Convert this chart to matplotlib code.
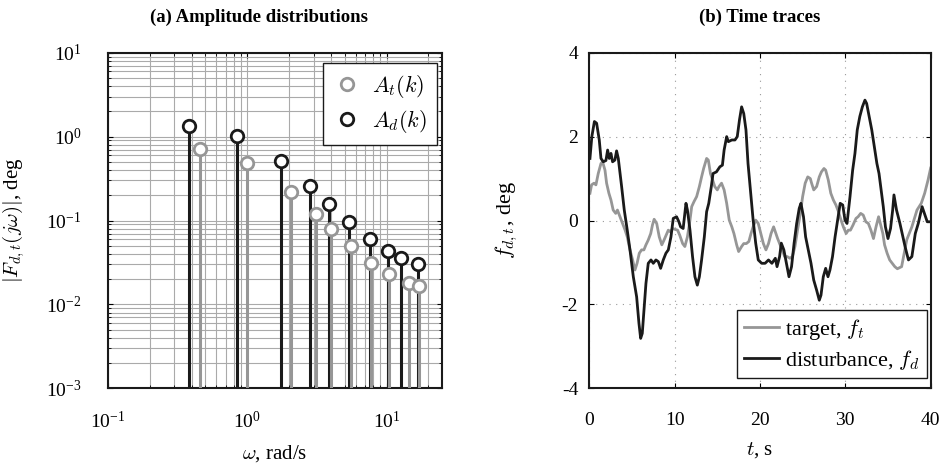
import matplotlib.pyplot as plt
import numpy as np

plt.rcParams['font.family'] = ['Liberation Serif', 'DejaVu Serif']
plt.rcParams['mathtext.fontset'] = 'cm'
plt.rcParams['axes.unicode_minus'] = False

# amplitude distributions (left)
w_t = [0.460, 0.997, 2.05, 3.10, 4.01, 5.56, 7.77, 10.5, 14.5, 17.2]
A_t = [0.706, 0.489, 0.220, 0.119, 0.0798, 0.0493, 0.0314, 0.0230, 0.0180, 0.0164]
w_d = [0.383, 0.844, 1.74, 2.80, 3.85, 5.40, 7.65, 10.3, 12.7, 16.9]
A_d = [1.35, 1.02, 0.508, 0.260, 0.157, 0.0952, 0.0602, 0.0430, 0.0360, 0.0303]

# time traces (right)
t_d = [0.08, 0.3, 0.6, 0.86, 1.17, 1.37, 1.64, 1.95, 2.15, 2.34, 2.54, 2.73, 3.0, 3.2, 3.4,
       3.79, 4.1, 4.45, 4.77, 5.16, 5.55, 5.82, 6.02, 6.21, 6.41, 6.64, 6.91, 7.23, 7.5,
       7.81, 8.09, 8.36, 8.67, 8.98, 9.26, 9.57, 9.84, 10.23, 10.5, 10.7, 11.0, 11.33,
       11.5, 11.8, 12.1, 12.38, 12.66, 12.9, 13.16, 13.48, 13.75, 14.0, 14.3, 14.5, 14.9,
       15.3, 15.6, 15.8, 16.1, 16.3, 16.7, 17.07, 17.34, 17.6, 17.85, 18.1, 18.36, 18.6,
       18.95, 19.2, 19.5, 19.8, 20.2, 20.6, 21.0, 21.4, 21.8, 22.0, 22.3, 22.5, 22.8, 23.1,
       23.4, 23.7, 24.0, 24.3, 24.6, 24.8, 25.1, 25.35, 25.66, 25.98, 26.3, 26.64, 26.95,
       27.15, 27.42, 27.7, 27.97, 28.2, 28.5, 28.8, 29.1, 29.4, 29.7, 29.96, 30.2, 30.55,
       30.86, 31.13, 31.4, 31.7, 32.0, 32.3, 32.5, 32.8, 33.1, 33.4, 33.7, 33.95, 34.2,
       34.45, 34.7, 35.0, 35.3, 35.55, 35.7, 36.0, 36.4, 37.0, 37.4, 37.8, 38.2, 38.55,
       39.0, 39.4, 39.6, 40.0]
f_d = [1.48, 2.0, 2.36, 2.32, 1.92, 1.48, 1.40, 1.43, 1.68, 1.48, 1.60, 1.40, 1.44, 1.66, 1.48,
       0.81, 0.25, -0.23, -0.70, -1.34, -1.82, -2.45, -2.81, -2.69, -2.13, -1.50, -1.02,
       -0.94, -1.02, -0.94, -0.98, -1.14, -0.94, -0.78, -0.70, -0.39, 0.05, 0.09, -0.03,
       -0.15, -0.19, 0.41, 0.25, -0.23, -0.86, -1.34, -1.54, -1.34, -0.94, -0.39, 0.21,
       0.41, 0.81, 1.12, 1.16, 1.28, 1.32, 1.68, 2.0, 1.88, 1.92, 1.92, 2.0, 2.40, 2.71,
       2.55, 2.16, 1.36, 0.57, 0.01, -0.54, -0.94, -1.02, -1.02, -0.94, -1.02, -0.90, -1.10,
       -0.86, -0.54, -0.70, -1.02, -1.34, -1.10, -0.54, -0.07, 0.29, 0.41, 0.09, -0.39,
       -0.70, -1.02, -1.42, -1.66, -1.90, -1.78, -1.34, -1.14, -1.34, -1.18, -0.86, -0.39,
       0.01, 0.41, 0.37, 0.01, -0.07, 0.57, 1.20, 1.60, 2.16, 2.48, 2.71, 2.87, 2.79, 2.48,
       2.16, 1.76, 1.36, 1.12, 0.73, 0.33, -0.15, -0.43, -0.19, 0.25, 0.61, 0.25, -0.07,
       -0.62, -0.94, -0.86, -0.31, -0.07, 0.33, 0.09, -0.03, -0.03]

t_t = [0.08, 0.27, 0.55, 0.78, 1.05, 1.37, 1.56, 1.84, 2.03, 2.3, 2.54, 2.8, 3.1, 3.3, 3.6,
       3.9, 4.2, 4.45, 4.77, 5.08, 5.35, 5.6, 5.86, 6.13, 6.4, 6.64, 6.9, 7.2, 7.4, 7.6,
       7.9, 8.2, 8.5, 8.75, 9.0, 9.26, 9.5, 9.77, 10.04, 10.35, 10.6, 10.94, 11.2, 11.5,
       11.8, 12.0, 12.27, 12.58, 12.9, 13.16, 13.4, 13.75, 13.95, 14.2, 14.45, 14.7, 15.0,
       15.2, 15.5, 15.8, 16.1, 16.4, 16.7, 16.95, 17.27, 17.5, 17.85, 18.1, 18.4, 18.7,
       18.95, 19.2, 19.5, 19.8, 20.1, 20.4, 20.7, 21.0, 21.3, 21.6, 21.8, 22.07, 22.3,
       22.66, 22.9, 23.2, 23.5, 23.8, 24.1, 24.4, 24.7, 25.0, 25.3, 25.6, 25.9, 26.05,
       26.3, 26.64, 26.95, 27.2, 27.5, 27.7, 28.0, 28.3, 28.6, 28.9, 29.2, 29.5, 29.77,
       30.1, 30.35, 30.6, 30.9, 31.25, 31.5, 31.8, 32.1, 32.4, 32.7, 33.0, 33.3, 33.6,
       33.9, 34.1, 34.4, 34.6, 34.9, 35.2, 35.5, 35.8, 36.1, 36.6, 37.2, 37.8, 38.4, 38.9,
       39.3, 39.7, 40.0]
f_t = [0.65, 0.85, 0.89, 0.85, 1.12, 1.36, 1.40, 1.20, 0.89, 0.65, 0.49, 0.25, 0.17, 0.25, 0.09,
       -0.07, -0.23, -0.39, -0.70, -0.94, -1.18, -1.02, -0.78, -0.70, -0.70, -0.58, -0.47,
       -0.31, -0.11, 0.03, -0.07, -0.39, -0.58, -0.47, -0.35, -0.23, -0.27, -0.19, -0.21,
       -0.23, -0.35, -0.55, -0.62, -0.39, 0.01, 0.33, 0.45, 0.57, 0.81, 1.04, 1.24, 1.48,
       1.44, 1.12, 0.97, 0.81, 0.73, 0.81, 0.89, 0.73, 0.41, 0.01, -0.15, -0.31, -0.58,
       -0.74, -0.62, -0.55, -0.55, -0.50, -0.31, -0.15, 0.01, -0.07, -0.31, -0.55, -0.70,
       -0.55, -0.31, -0.15, -0.27, -0.43, -0.55, -0.74, -0.86, -0.86, -0.90, -0.86, -0.62,
       -0.23, 0.13, 0.57, 0.89, 1.04, 1.00, 0.89, 0.73, 0.81, 1.04, 1.16, 1.24, 1.20, 0.97,
       0.65, 0.49, 0.37, 0.21, 0.01, -0.15, -0.31, -0.23, -0.23, -0.11, 0.05, 0.09, 0.17,
       0.13, -0.03, -0.07, -0.23, -0.43, -0.15, 0.09, -0.07, -0.31, -0.58, -0.78, -0.94,
       -1.02, -1.10, -1.15, -1.1, -0.46, -0.15, 0.25, 0.41, 0.65, 0.97, 1.25]

grey = '#969696'
dark = '#1a1a1a'

fig = plt.figure(figsize=(9.48, 4.67), dpi=100)
ax1 = fig.add_axes([0.1139, 0.1685, 0.3523, 0.7186])
ax2 = fig.add_axes([0.6216, 0.1685, 0.3601, 0.7186])

# (a)
ax1.set_xscale('log')
ax1.set_yscale('log')
ax1.vlines(w_d, 1e-3, A_d, color=dark, lw=2.2, zorder=3)
ax1.vlines(w_t, 1e-3, A_t, color=grey, lw=2.2, zorder=3)
ax1.plot(w_t, A_t, 'o', ms=9, mfc='white', mec=grey, mew=2, ls='none', zorder=4, label='$A_t(k)$')
ax1.plot(w_d, A_d, 'o', ms=9, mfc='white', mec=dark, mew=2, ls='none', zorder=4, label='$A_d(k)$')
ax1.set_xlim(0.1, 25)
ax1.set_ylim(1e-3, 10)
ax1.grid(True, which='both', color='#aaaaaa', lw=0.8, ls='-')
ax1.set_axisbelow(True)
ax1.tick_params(which='both', direction='in', top=True, right=True, labelsize=14)
ax1.tick_params(axis='x', pad=16)
ax1.tick_params(axis='y', pad=19)
ax1.set_xlabel(r'$\omega$, rad/s', fontsize=15, labelpad=8)
ax1.set_ylabel(r'$|F_{d,t}(j\omega)|$, deg', fontsize=15, labelpad=14)
ax1.set_title('(a) Amplitude distributions', fontsize=13.5, fontweight='bold', pad=22, x=0.452)
leg1 = ax1.legend(loc='upper right', fontsize=16, frameon=True, fancybox=False,
                  edgecolor=dark, framealpha=1, handlelength=1.2, handletextpad=0.55,
                  borderpad=0.45, labelspacing=0.35, borderaxespad=0,
                  bbox_to_anchor=(0.985, 0.970))
leg1.get_frame().set_linewidth(1.0)
for s in ax1.spines.values():
    s.set_linewidth(1.5)
    s.set_color(dark)

# (b)
ax2.plot(t_t, f_t, color=grey, lw=2.0, label='target, $f_t$')
ax2.plot(t_d, f_d, color=dark, lw=2.0, label='disturbance, $f_d$')
ax2.set_xlim(0, 40)
ax2.set_ylim(-4, 4)
ax2.set_xticks([0, 10, 20, 30, 40])
ax2.set_yticks([-4, -2, 0, 2, 4])
ax2.grid(True, color='#999999', lw=0.8, ls=(0, (1, 5)))
ax2.tick_params(direction='in', top=True, right=True, labelsize=14)
ax2.tick_params(axis='x', pad=17)
ax2.tick_params(axis='y', pad=8)
ax2.set_xlabel('$t$, s', fontsize=15, labelpad=8)
ax2.set_ylabel('$f_{d,t}$, deg', fontsize=16, labelpad=30)
ax2.set_title('(b) Time traces', fontsize=13.5, fontweight='bold', pad=22)
leg2 = ax2.legend(loc='lower right', fontsize=16, frameon=True, fancybox=False,
                  edgecolor=dark, framealpha=1, handlelength=1.55, handletextpad=0.3,
                  borderpad=0.3, labelspacing=0.25, borderaxespad=0,
                  bbox_to_anchor=(0.988, 0.030))
leg2.get_frame().set_linewidth(1.0)
for s in ax2.spines.values():
    s.set_linewidth(1.5)
    s.set_color(dark)

fig.savefig('out.png', dpi=100)
